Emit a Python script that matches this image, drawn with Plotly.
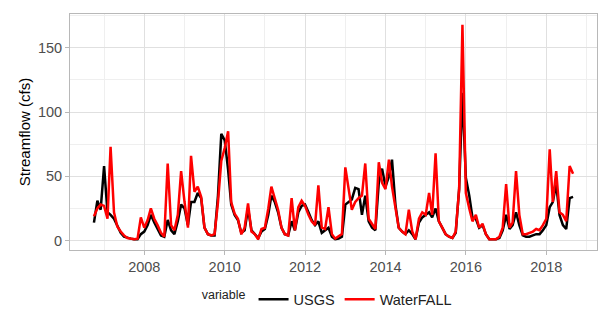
import pandas as pd
import plotly.graph_objects as go

# Monthly dates: Oct 2006 .. Sep 2018 (water years 2007-2018)
dates = pd.date_range("2006-10-01", "2018-09-01", freq="MS")

usgs = [
    14, 31, 24, 58, 22, 20, 17, 12, 6, 3, 2, 1.5,
    1, 1, 5, 7, 12, 20, 14, 9, 4, 3, 16, 8,
    5, 15, 28, 25, 12, 30, 30, 37, 33, 10, 5, 4,
    4, 35, 83, 78, 55, 28, 20, 16, 6, 8, 25, 8,
    5, 2, 7, 9, 20, 35, 30, 22, 10, 5, 4, 15,
    8, 22, 27, 28, 22, 16, 12, 15, 6, 8, 10, 3,
    1, 1.5, 3, 28, 30, 32, 41, 40, 20, 35, 15, 10,
    8, 45, 56, 42, 50, 63, 28, 10, 7, 5, 8, 5,
    1, 14, 18, 20, 22, 18, 25, 15, 10, 5, 3, 2,
    6, 40, 115, 49, 35, 18, 17, 10, 12, 5, 1, 1,
    1, 2, 8, 20, 9, 12, 22, 12, 4, 3, 3, 4,
    5, 5, 8, 12, 26, 30, 44, 20, 12, 9, 33, 34,
]

waterfall = [
    19, 25, 28, 27, 17, 73, 22, 11, 7, 4, 2, 1.5,
    1, 1.5, 18, 10, 16, 25, 17, 12, 6, 3, 60, 12,
    8, 20, 54, 30, 10, 66, 38, 42, 34, 10, 5, 4,
    5, 30, 62, 72, 85, 30, 21, 17, 5, 10, 29, 7,
    5, 1, 9, 10, 25, 42, 33, 24, 10, 5, 4, 33,
    8, 26, 31, 27, 20, 15, 12, 43, 10, 9, 26, 5,
    1.5, 3, 5, 57, 41, 24, 30, 33, 35, 60, 17, 13,
    9, 61, 45, 40, 63, 42, 25, 10, 7, 5, 24, 7,
    1, 17, 22, 20, 37, 20, 68, 15, 10, 5, 3, 2,
    7, 40, 168, 37, 25, 15, 20, 10, 13, 5, 1, 1,
    1, 3, 10, 44, 10, 14, 54, 20, 5, 5, 6, 7,
    9, 8, 12, 17, 71, 30, 54, 22, 20, 15, 58, 52,
]

series_names = ["USGS", "WaterFALL"]
series_colors = ["black", "#ff0000"]

fig = go.Figure()
for name, vals, col in zip(series_names, [usgs, waterfall], series_colors):
    fig.add_trace(go.Scatter(x=dates, y=vals, mode="lines", name=name,
                             line=dict(color=col, width=2.5)))

span = dates[-1] - dates[0]
xr = [dates[0] - 0.05 * span, dates[-1] + 0.05 * span]
ymax = max(max(usgs), max(waterfall))
ymin = min(min(usgs), min(waterfall))
yr_span = ymax - ymin
yr = [ymin - 0.05 * yr_span, ymax + 0.05 * yr_span]

grid = "#e0e0e0"
border = "#b8b8b8"
font = "Liberation Sans, Arial, sans-serif"

fig.update_layout(
    width=605, height=319,
    margin=dict(l=70, r=8, t=14, b=69),
    paper_bgcolor="white", plot_bgcolor="white",
    font=dict(family=font, color="#4d4d4d", size=14),
    showlegend=True,
    legend=dict(orientation="h", x=0.49, xanchor="center",
                yref="container", y=0.062, yanchor="middle",
                title=dict(text="variable", side="left",
                           font=dict(size=12.5, color="#222222")),
                font=dict(size=14.5, color="#222222"),
                itemwidth=30, bgcolor="rgba(0,0,0,0)"),
)
fig.update_xaxes(
    range=xr, type="date", automargin=False,
    tick0="2008-01-01", dtick="M24", tickformat="%Y",
    showgrid=True, gridcolor=grid, gridwidth=1,
    minor=dict(dtick="M12", tick0="2007-01-01", showgrid=True,
               gridcolor="#efefef", gridwidth=0.6),
    ticks="outside", ticklen=4, tickcolor=border, tickwidth=1,
    showline=True, linecolor=border, linewidth=1, mirror=True,
    zeroline=False, tickfont=dict(size=14.5, color="#4d4d4d"),
)
fig.update_yaxes(
    range=yr, tick0=0, dtick=50, automargin=False,
    showgrid=True, gridcolor=grid, gridwidth=1,
    minor=dict(dtick=25, tick0=0, showgrid=True,
               gridcolor="#efefef", gridwidth=0.6),
    ticks="outside", ticklen=4, tickcolor=border, tickwidth=1,
    showline=True, linecolor=border, linewidth=1, mirror=True,
    zeroline=False, tickfont=dict(size=14.5, color="#4d4d4d"),
    title=dict(text="Streamflow (cfs)", font=dict(size=15, color="black"),
               standoff=3),
)

fig.write_html("out.html",
               config={"displayModeBar": False},
               post_script="document.body.style.margin='0px';")
